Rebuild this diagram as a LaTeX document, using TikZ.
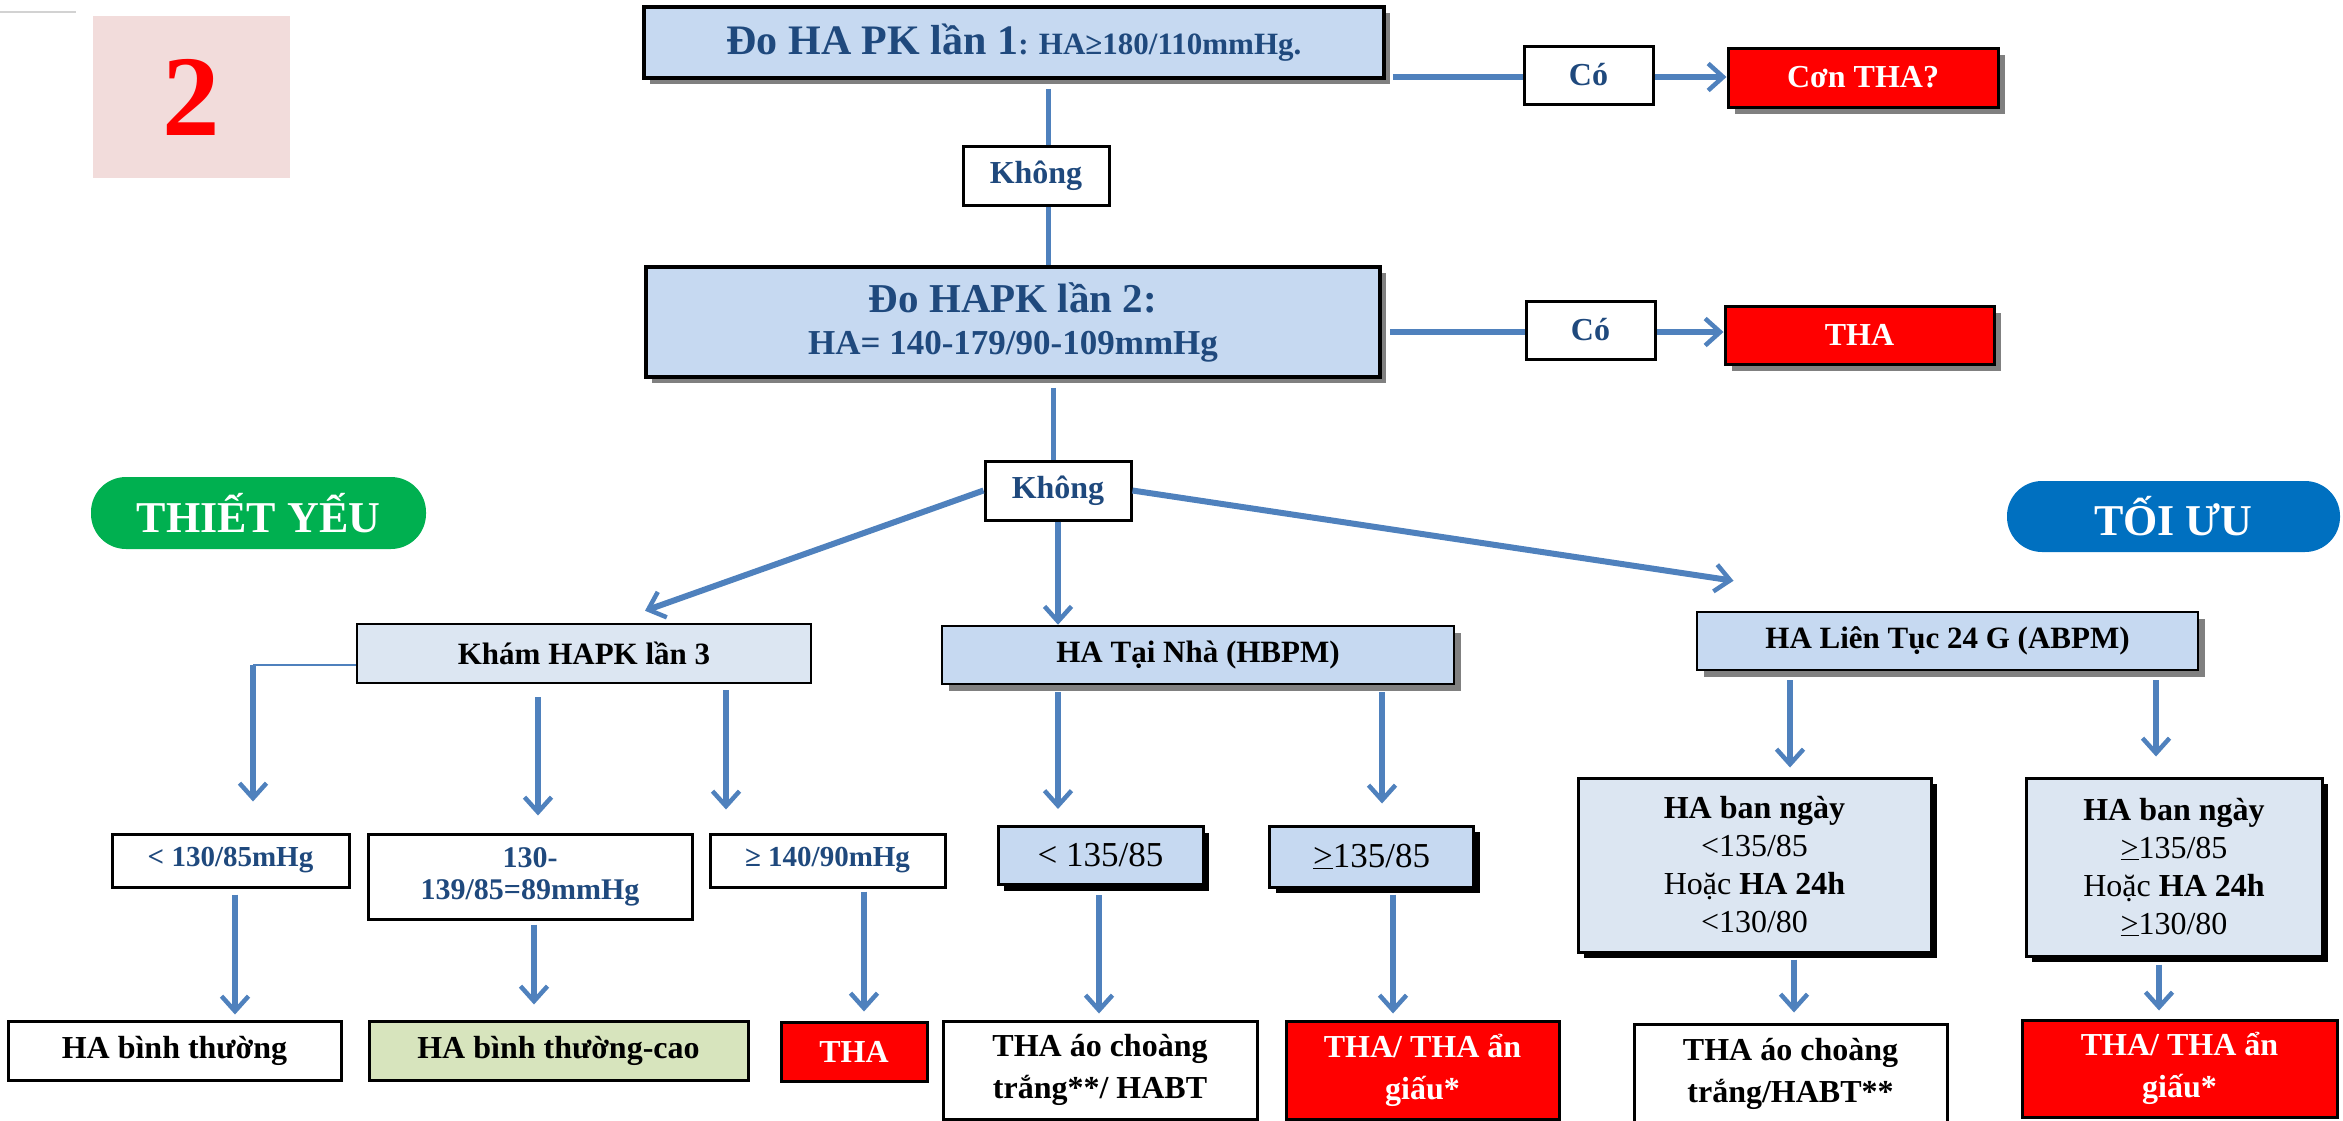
\documentclass[tikz,border=0pt]{standalone}
\usepackage{fontspec}
\setmainfont{Liberation Serif}
\usetikzlibrary{arrows.meta,shadows,calc}

\definecolor{navy}{HTML}{1F497D}
\definecolor{paleblue}{HTML}{C6D9F1}
\definecolor{paleblueL}{HTML}{DCE6F2}
\definecolor{linkblue}{HTML}{4F81BD}
\definecolor{shadowgrey}{HTML}{808080}
\definecolor{pinkbg}{HTML}{F2DCDB}
\definecolor{greenpill}{HTML}{00B050}
\definecolor{bluepill}{HTML}{0070C0}
\definecolor{palegreen}{HTML}{D7E4BD}
\definecolor{alarm}{HTML}{FF0000}

\newcommand{\fsz}[2]{\fontsize{#1pt}{#2pt}\selectfont}

\tikzset{
  greyshadow/.style={general shadow={fill=shadowgrey, shadow xshift=#1, shadow yshift=-#1}},
  blackshadow/.style={general shadow={fill=black, shadow xshift=#1, shadow yshift=-#1}},
  basebox/.style={draw=black, line width=3pt, inner sep=0pt, align=center},
  mainbox/.style={basebox, line width=3.5pt, fill=paleblue, text=navy, font=\bfseries, greyshadow=6pt},
  tagbox/.style={basebox, fill=white, text=navy, font=\fsz{32}{38}\bfseries},
  alarmbox/.style={basebox, fill=alarm, text=white, font=\fsz{32}{42}\bfseries},
  pill/.style={inner sep=0pt, rounded corners=35pt, text=white, font=\fsz{44}{50}\bfseries},
  testbox/.style={basebox, line width=2.5pt, text=black, font=\fsz{31}{36}\bfseries},
  rangebox/.style={basebox, fill=white, text=navy, font=\fsz{29}{32}\bfseries},
  homebox/.style={basebox, fill=paleblue, text=black, font=\fsz{35}{40}, blackshadow=6pt},
  ambbox/.style={basebox, fill=paleblueL, text=black, font=\fsz{32}{38}, blackshadow=6pt},
  resultbox/.style={basebox, fill=white, text=black, font=\fsz{32}{42}\bfseries},
  link/.style={draw=linkblue, line width=5.5pt},
  arr/.style={link, -{Straight Barb[length=15pt,width=27pt,line width=4.5pt]}},
}

\begin{document}
\begin{tikzpicture}[x=1pt,y=-1pt]
\useasboundingbox (0,0) rectangle (2343,1120);

% corner rule and section number
\draw[gray!35, line width=1.5pt] (0,12) -- (76,12);
\node[fill=pinkbg, minimum width=197pt, minimum height=162pt, inner sep=0pt,
      text=red, font=\fsz{115}{120}\bfseries] (badge) at (191.5,97) {2};

% first and second office measurements
\node[mainbox, minimum width=740pt, minimum height=71pt] (m1) at (1014,42.5)
  {{\fsz{42}{48}Đo HA PK lần 1}{\fsz{31}{34}: HA≥180/110mmHg.}};
\node[mainbox, minimum width=734pt, minimum height=110pt, font=\fsz{35}{42}\bfseries] (m2) at (1013,322)
  {{\fsz{41}{41}Đo HAPK lần 2:}\\HA= 140-179/90-109mmHg};

\node[tagbox, minimum width=146pt, minimum height=59pt] (k1) at (1036,175.5) {Không};
\node[tagbox, minimum width=146pt, minimum height=59pt] (k2) at (1058,490.5) {Không};
\node[tagbox, minimum width=129pt, minimum height=58pt] (co1) at (1588.5,75) {Có};
\node[tagbox, minimum width=129pt, minimum height=58pt] (co2) at (1590.5,330) {Có};

\node[alarmbox, minimum width=270pt, minimum height=59pt, greyshadow=7pt] (con) at (1863,77.5) {Cơn THA?};
\node[alarmbox, minimum width=269pt, minimum height=58pt, greyshadow=7pt] (tha1) at (1859.5,335) {THA};

% level labels
\node[pill, fill=greenpill, minimum width=335pt, minimum height=72pt] (thiet) at (258.5,513) {THIẾT YẾU};
\node[pill, fill=bluepill, minimum width=333pt, minimum height=71pt] (toiuu) at (2173.5,516.5) {TỐI ƯU};

% third-step methods
\node[testbox, fill=paleblueL, minimum width=454pt, minimum height=59pt] (kham) at (584,653.5) {Khám HAPK lần 3};
\node[testbox, fill=paleblue, minimum width=512pt, minimum height=58pt, greyshadow=7pt] (hbpm) at (1198,655) {HA Tại Nhà (HBPM)};
\node[testbox, fill=paleblue, minimum width=501pt, minimum height=58pt, greyshadow=7pt] (abpm) at (1947.5,641) {HA Liên Tục 24 G (ABPM)};

% thresholds
\node[rangebox, minimum width=237pt, minimum height=53pt] (c1) at (230.5,860.5) {< 130/85mHg};
\node[rangebox, minimum width=324pt, minimum height=85pt, font=\fsz{30}{32}\bfseries] (c2) at (530,876.5) {130-\\139/85=89mmHg};
\node[rangebox, minimum width=235pt, minimum height=53pt] (c3) at (827.5,860.5) {≥ 140/90mHg};
\node[homebox, minimum width=205pt, minimum height=58pt] (c4) at (1100.5,855.5) {< 135/85};
\node[homebox, minimum width=204pt, minimum height=61pt] (c5) at (1371.5,856.5) {\underline{>}135/85};
\node[ambbox, minimum width=353pt, minimum height=174pt] (c6) at (1754.5,865)
  {{\bfseries HA ban ngày}\\<135/85\\Hoặc {\bfseries HA 24h}\\<130/80};
\node[ambbox, minimum width=296pt, minimum height=178pt] (c7) at (2174,867)
  {{\bfseries HA ban ngày}\\\underline{>}135/85\\Hoặc {\bfseries HA 24h}\\\underline{>}130/80};

% outcomes
\node[resultbox, minimum width=333pt, minimum height=59pt] (o1) at (174.5,1050.5) {HA bình thường};
\node[resultbox, fill=palegreen, minimum width=379pt, minimum height=59pt] (o2) at (558.5,1050.5) {HA bình thường-cao};
\node[alarmbox, minimum width=146pt, minimum height=59pt] (o3) at (854,1051.5) {THA};
\node[resultbox, minimum width=314pt, minimum height=98pt] (o4) at (1100,1070) {THA áo choàng\\trắng**/ HABT};
\node[alarmbox, minimum width=273pt, minimum height=98pt] (o5) at (1422.5,1070) {THA/ THA ẩn\\giấu*};
\node[resultbox, minimum width=313pt, minimum height=100pt] (o6) at (1790.5,1074) {THA áo choàng\\trắng/HABT**};
\node[alarmbox, minimum width=315pt, minimum height=97pt] (o7) at (2179.5,1068.5) {THA/ THA ẩn\\giấu*};

% guide positions for the connectors
\coordinate (s1) at (1048,0);
\coordinate (s2) at (1053,0);
\coordinate (h1) at (0,77);
\coordinate (h2) at (0,332);
\coordinate (xa) at (253,665);
\coordinate (xb) at (538,0);
\coordinate (xc) at (726,0);
\coordinate (xd) at (1058,0);
\coordinate (xe) at (1382,0);
\coordinate (xf) at (1790,0);
\coordinate (xg) at (2156,0);
\coordinate (xh) at (235,0);
\coordinate (xi) at (534,0);
\coordinate (xj) at (864,0);
\coordinate (xk) at (1099,0);
\coordinate (xl) at (1393,0);
\coordinate (xm) at (1794,0);
\coordinate (xn) at (2159,0);

% main spine
\draw[link, line width=5pt, shorten <=9pt] (m1.south -| s1) -- (k1.north -| s1);
\draw[link, line width=5pt] (k1.south -| s1) -- (m2.north -| s1);
\draw[link, line width=5pt, shorten <=9pt] (m2.south -| s2) -- (k2.north -| s2);

% "yes" branches
\draw[link, line width=6pt, shorten <=7pt] (m1.east |- h1) -- (co1.west |- h1);
\draw[arr, line width=6pt] (co1.east |- h1) -- (con.west |- h1);
\draw[link, line width=6pt, shorten <=8pt] (m2.east |- h2) -- (co2.west |- h2);
\draw[arr, line width=6pt] (co2.east |- h2) -- (tha1.west |- h2);

% split into the three methods
\draw[arr, line width=6pt] (k2.west) -- ($(kham.north)+(61,-12)$);
\draw[arr] (k2.south) -- (k2.south |- hbpm.north);
\draw[arr, line width=6pt] (k2.east) -- ($(abpm.north)+(-214,-30)$);

% office branch
\draw[link, line width=2.5pt] (kham.west |- xa) -- (xa);
\draw[arr, shorten >=31pt] (xa) -- (xa |- c1.north);
\draw[arr, shorten <=13pt, shorten >=17pt] (kham.south -| xb) -- (c2.north -| xb);
\draw[arr, shorten <=6pt, shorten >=23pt] (kham.south -| xc) -- (c3.north -| xc);

% home branch
\draw[arr, shorten <=7pt, shorten >=16pt] (hbpm.south -| xd) -- (c4.north -| xd);
\draw[arr, shorten <=7pt, shorten >=21pt] (hbpm.south -| xe) -- (c5.north -| xe);

% ambulatory branch
\draw[arr, shorten <=9pt, shorten >=9pt] (abpm.south -| xf) -- (c6.north -| xf);
\draw[arr, shorten <=9pt, shorten >=20pt] (abpm.south -| xg) -- (c7.north -| xg);

% thresholds to outcomes
\draw[arr, shorten <=6pt, shorten >=5pt] (c1.south -| xh) -- (o1.north -| xh);
\draw[arr, shorten <=4pt, shorten >=15pt] (c2.south -| xi) -- (o2.north -| xi);
\draw[arr, shorten <=3pt, shorten >=9pt] (c3.south -| xj) -- (o3.north -| xj);
\draw[arr, shorten <=9pt, shorten >=6pt] (c4.south -| xk) -- (o4.north -| xk);
\draw[arr, shorten <=6pt, shorten >=6pt] (c5.south -| xl) -- (o5.north -| xl);
\draw[arr, shorten <=6pt, shorten >=10pt] (c6.south -| xm) -- (o6.north -| xm);
\draw[arr, shorten <=7pt, shorten >=8pt] (c7.south -| xn) -- (o7.north -| xn);
\end{tikzpicture}
\end{document}
